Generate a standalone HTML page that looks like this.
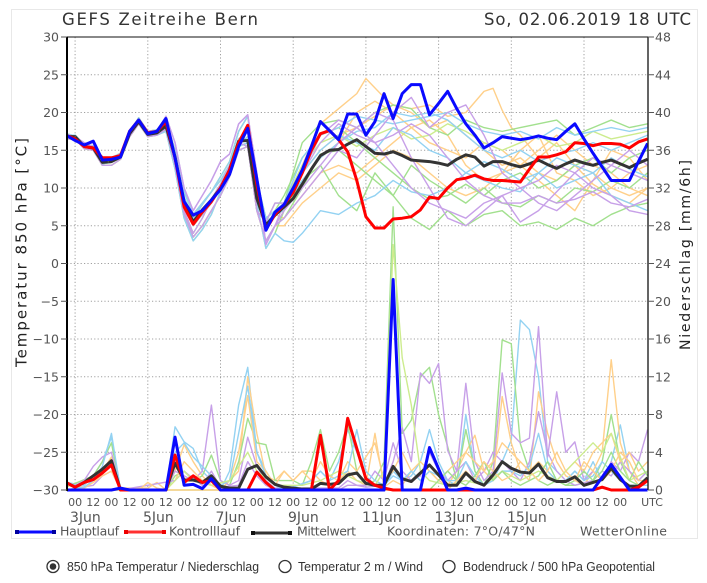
<!DOCTYPE html>
<html><head><meta charset="utf-8"><style>
html,body{margin:0;padding:0;background:#fff;width:707px;height:583px;overflow:hidden}
svg{display:block}
.t{font-family:"DejaVu Sans","Liberation Sans",sans-serif;fill:#555}
.r{font-family:"Liberation Sans",sans-serif;fill:#333;font-size:12.5px}
.m{fill:none;stroke-width:1.4;stroke-linejoin:round;vector-effect:non-scaling-stroke}
.k{fill:none;stroke-width:3;stroke-linejoin:round;vector-effect:non-scaling-stroke}
.o{stroke:#ffd08a}.g{stroke:#a2e08e}.b{stroke:#93d2f2}.p{stroke:#c7a0e8}.y{stroke:#cdec8e}
</style></head><body>
<svg width="707" height="583" viewBox="0 0 707 583" xmlns="http://www.w3.org/2000/svg">
<defs><clipPath id="c"><rect x="67" y="30" width="581" height="463"/></clipPath></defs>
<rect x="11.5" y="9.5" width="686" height="529" fill="#fff" stroke="#e8e8e8"/>
<text class="t" x="62" y="25" font-size="16.5" style="fill:#333" textLength="196" lengthAdjust="spacing">GEFS Zeitreihe Bern</text>
<text class="t" x="484" y="25" font-size="16.5" style="fill:#333" textLength="207" lengthAdjust="spacing">So, 02.06.2019 18 UTC</text>

<!-- grid -->
<g stroke="#a0a0a0" stroke-width="1" stroke-dasharray="1.2 2.2">
<line x1="67" x2="648" y1="74.75" y2="74.75"/><line x1="67" x2="648" y1="112.5" y2="112.5"/>
<line x1="67" x2="648" y1="150.25" y2="150.25"/><line x1="67" x2="648" y1="188" y2="188"/>
<line x1="67" x2="648" y1="225.75" y2="225.75"/><line x1="67" x2="648" y1="263.5" y2="263.5"/>
<line x1="67" x2="648" y1="301.25" y2="301.25"/><line x1="67" x2="648" y1="339" y2="339"/>
<line x1="67" x2="648" y1="376.75" y2="376.75"/><line x1="67" x2="648" y1="414.5" y2="414.5"/>
<line x1="67" x2="648" y1="452.25" y2="452.25"/>
<line x1="75.1" x2="75.1" y1="37" y2="490"/><line x1="147.8" x2="147.8" y1="37" y2="490"/>
<line x1="220.5" x2="220.5" y1="37" y2="490"/><line x1="293.2" x2="293.2" y1="37" y2="490"/>
<line x1="365.9" x2="365.9" y1="37" y2="490"/><line x1="438.6" x2="438.6" y1="37" y2="490"/>
<line x1="511.3" x2="511.3" y1="37" y2="490"/><line x1="584" x2="584" y1="37" y2="490"/>
</g>

<g clip-path="url(#c)">
<!-- temperature ensemble -->
<g transform="matrix(9.087 0 0 -7.55 66 263.5)">
<polyline class="m o" points="0,17 1,17 2,15.8 3,15.6 4,13.8 5,14 6,14.6 7,17.5 8,19.3 9,17.5 10,17.7 11,19 12,15 13,9.5 14,6.5 15,8 16,9.5 17,11.5 18,13.5 19,17.5 20,19.5 21,11 22,6 23,7 24,8 26,13 28,18.5 30,20.5 32,22.5 33,24.5 35,22 36,21 38,20 40,18 42,19 44,17 46,15 48,13 50,14 52,12 54,11 56,13 58,12 60,10 62,9 64,10"/>
<polyline class="m o" points="0,16.8 1,16.6 2,15.4 3,15 4,13.5 5,13.8 6,14.3 7,17.3 8,19 9,17.4 10,17.6 11,18.5 12,14.5 13,8.8 14,6 15,7.8 16,9.5 17,11 18,13 19,16.5 20,17.5 21,9.5 22,5.5 23,6.5 24,8 26,12 28,15 30,17 32,18 34,19.5 36,21 38,20.5 40,21 42,19.5 44,20 46,22.8 47,23.2 48,20.3 49,18 50,17 52,14 54,16 56,13 58,10.5 60,9 62,8 64,10"/>
<polyline class="m o" points="0,16.9 1,16.7 2,15.3 3,15.4 4,13.3 5,13.6 6,14.2 7,17 8,18.6 9,17.2 10,17.3 11,18 12,13.8 13,7.5 14,5 15,6.5 16,8 17,10 18,12 19,15.8 20,16.8 21,9 22,5 23,6.5 24,6 26,9 28,12 30,13 32,12 34,14 36,16 38,18 40,19 42,17 44,13 46,11 48,12 50,15 52,17 54,12 56,11 58,9 60,10 62,12 64,13"/>
<polyline class="m o" points="0,16.5 1,16.5 2,15.2 3,15 4,13 5,13 6,13.8 7,16.8 8,18.5 9,16.8 10,17 11,17.8 12,13 13,6.5 14,3.5 15,5 16,7 17,9 18,11.5 19,15 20,15.5 21,7 22,3 23,5 24,5 26,8 28,10 30,12 32,11 34,13 36,15 38,14 40,12 42,10 44,9 46,10 48,12 50,13 52,11 54,9 56,7 58,11 60,15 62,14 64,11"/>
<polyline class="m o" points="0,16.9 1,16.7 2,15.3 3,15.4 4,13.3 5,13.6 6,14.2 7,17 8,18.6 9,17.2 10,17.3 11,18 12,13.8 13,7.5 14,5 15,6.5 16,8 17,10 18,12 19,15.8 20,16.8 21,9 22,5 23,6.5 24,7 26,11 28,14 30,16 32,20 34,21.5 36,20 38,18 40,16 42,15 44,14 46,16 48,15 50,13 52,15 54,17 56,15 58,13 60,12 62,10 64,9"/>
<polyline class="m g" points="0,17 1,16.9 2,15.6 3,15.2 4,13.6 5,13.5 6,14 7,17.2 8,18.8 9,16.8 10,17.2 11,18.3 12,14 13,7 14,4 15,6 16,8.5 17,10.5 18,13 19,16 20,15.5 21,7 22,5.5 23,8 24,8 26,16 28,18.5 30,19 32,18 34,20 36,21 38,20.5 40,18 42,17 44,19 46,18 48,17.5 50,18 52,18.5 54,19 56,17 58,18 60,19 62,18 64,18.5"/>
<polyline class="m g" points="0,17.2 1,16.9 2,15.8 3,15.2 4,13.2 5,13.4 6,14 7,17 8,18.7 9,16.9 10,17 11,17.5 12,12.5 13,6 14,3 15,4.5 16,6.5 17,9.5 18,12.5 19,15.5 20,16 21,8 22,2 23,4 24,7 26,11 28,13 30,9 32,7 34,12 36,9 38,6 40,4.5 42,7 44,5 46,6.5 48,7 50,5 52,5.5 54,4.5 56,6 58,5 60,6.5 62,7.5 64,8"/>
<polyline class="m g" points="0,16.5 1,16.5 2,15.2 3,15 4,13 5,13 6,13.8 7,16.8 8,18.5 9,16.8 10,17 11,17.8 12,13 13,6.5 14,3.5 15,5 16,7 17,9 18,11.5 19,15 20,15.5 21,7 22,3 23,5 24,6 26,10 28,14.5 30,15 32,13 34,11 36,9 38,13 40,11 42,9.5 44,8 46,10 48,8 50,7.5 52,9 54,8 56,10 58,9.5 60,11 62,10 64,12"/>
<polyline class="m g" points="0,17 1,17 2,15.8 3,15.6 4,13.8 5,14 6,14.6 7,17.5 8,19.3 9,17.5 10,17.7 11,19 12,15 13,9.5 14,6.5 15,8 16,9.5 17,11.5 18,13.5 19,17.5 20,19.5 21,11 22,6 23,7 24,9 26,14 28,17 30,18 32,16 34,14 36,12 38,10 40,8.5 42,9 44,10.5 46,9 48,11 50,12 52,10 54,11 56,13 58,14 60,12 62,14 64,15"/>
<polyline class="m y" points="0,16.8 1,16.6 2,15.4 3,15 4,13.5 5,13.8 6,14.3 7,17.3 8,19 9,17.4 10,17.6 11,18.5 12,14.5 13,8.8 14,6 15,7.8 16,9.5 17,11 18,13 19,16.5 20,17.5 21,9.5 22,5.5 23,6.5 24,8 26,13 28,16 30,17 32,15.5 34,17 36,18 38,16.5 40,17 42,18.5 44,17.5 46,16 48,15 50,16 52,17 54,15.5 56,16 58,17.5 60,16.5 62,17 64,17.5"/>
<polyline class="m b" points="0,17.2 1,16.9 2,15.8 3,15.2 4,13.2 5,13.4 6,14 7,17 8,18.7 9,16.9 10,17 11,17.5 12,12.5 13,6 14,3 15,4.5 16,6.5 17,9.5 18,12.5 19,15.5 20,16 21,8 22,2 23,4 24,3 25,2.8 26,4 28,7 30,6.5 32,8 34,9 36,11 38,9.5 40,9 42,10 44,12 46,11 48,10 50,9.5 52,12 54,10 56,11 58,12 60,9 62,8 64,7"/>
<polyline class="m b" points="0,17 1,17 2,15.8 3,15.6 4,13.8 5,14 6,14.6 7,17.5 8,19.3 9,17.5 10,17.7 11,19 12,15 13,9.5 14,6.5 15,8 16,9.5 17,11.5 18,13.5 19,17.5 20,19.5 21,11 22,6 23,7 24,8 26,14 28,17 30,18 32,19.5 34,19 36,18.5 38,19 40,19.5 42,20 44,18.5 46,17.5 48,17 50,17.5 52,16.5 54,18 56,17 58,17.5 60,18 62,17.5 64,18"/>
<polyline class="m b" points="0,16.9 1,16.7 2,15.3 3,15.4 4,13.3 5,13.6 6,14.2 7,17 8,18.6 9,17.2 10,17.3 11,18 12,13.8 13,7.5 14,5 15,6.5 16,8 17,10 18,12 19,15.8 20,16.8 21,9 22,5 23,6.5 24,7 26,12 28,15 30,17 32,16 34,15 36,18 38,17 40,15 42,14 44,12 46,13.5 48,12.5 50,11 52,12 54,14 56,13 58,12 60,14 62,12.5 64,11.5"/>
<polyline class="m b" points="0,16.8 1,16.6 2,15.4 3,15 4,13.5 5,13.8 6,14.3 7,17.3 8,19 9,17.4 10,17.6 11,18.5 12,14.5 13,8.8 14,6 15,7.8 16,9.5 17,11 18,13 19,16.5 20,17.5 21,9.5 22,5.5 23,6.5 24,7.5 26,11 28,14 30,16 32,17.5 34,18 36,20 38,19.5 40,20 42,19 44,17 46,15 48,14 50,15 52,13.5 54,14.5 56,15 58,16 60,15 62,16 64,17"/>
<polyline class="m p" points="0,16.5 1,16.8 2,16 3,15.5 4,14 5,14 6,14.5 7,17.5 8,19 9,17.5 10,17.5 11,19.5 12,16 13,10 14,7 15,9 16,11 17,13.5 18,14.5 19,18.5 20,19.7 21,12 22,2.5 23,5 24,7 26,10 28,13 30,16 32,18 34,20 36,19 38,14 40,10 42,6 44,5 46,7 48,9 50,10 52,8 54,7 56,9 58,11 60,13 62,12 64,11"/>
<polyline class="m p" points="0,16.5 1,16.5 2,15.2 3,15 4,13 5,13 6,13.8 7,16.8 8,18.5 9,16.8 10,17 11,17.8 12,13 13,6.5 14,3.5 15,5 16,7 17,9 18,11.5 19,15 20,15.5 21,7 22,3 23,5 24,8 26,12 28,16 30,18.5 32,17 34,16 36,13 38,10 40,8 42,7 44,6 46,8 48,9 50,5.5 52,7 54,9.5 56,12 58,10 60,9 62,7 64,6.5"/>
<polyline class="m p" points="0,16.5 1,16.8 2,16 3,15.5 4,14 5,14 6,14.5 7,17.5 8,19 9,17.5 10,17.5 11,19.5 12,16 13,10 14,7 15,9 16,11 17,13.5 18,14.5 19,18.5 20,19.7 21,12 22,2.5 23,5 24,6 26,9 28,12 30,15 32,14 34,17 36,20 38,22 40,18 42,20 44,21 46,17 48,12 50,10 52,11 54,13 56,12 58,14 60,13 62,15 64,13"/>
<polyline class="m p" points="0,17 1,16.9 2,15.6 3,15.2 4,13.6 5,13.5 6,14 7,17.2 8,18.8 9,16.8 10,17.2 11,18.3 12,14 13,7 14,4 15,6 16,8.5 17,10.5 18,13 19,16 20,15.5 21,7 22,5.5 23,8 24,8 26,12 28,17 30,19 32,18 34,16 36,17 38,18.5 40,17 42,14 44,11 46,9 48,8 50,8 52,9 54,8 56,8.5 58,9.5 60,8 62,7.5 64,8.5"/>
</g>
<!-- precipitation ensemble -->
<g transform="matrix(9.087 0 0 -9.4375 66 490)">
<polyline class="m b" points="0,0.8 2,0.5 3,1.5 4,3 5,5.6 6,0 11,0 12,6.7 13,5.1 14,4.4 15,2 16,1 17,0 18,2 19,9 20,13 21,4 22,2 23,0.5 25,0.3 27,1 28,2 29,1 30,3 31,6.4 32,4 33,1.5 34,0.5 35,0.3 36,2 37,1 38,1.5 39,3 40,6.4 41,3 42,1 43,0.5 44,8 45,2 46,0.5 47,1 48,3 49,5.3 50,18 51,17 52,12 53,3 54,2 55,1 56,2 57,1 58,3 59,1 60,3 61,6.9 62,2 63,1 64,2"/>
<polyline class="m o" points="0,0.5 2,0.3 3,1 4,2 5,3.5 6,0.2 9,0.2 10,0.8 11,0 12,2 13,4.8 14,3 15,1.5 16,0.5 17,0 19,2 20,12 21,6 22,1.5 23,1 24,2 25,1 26,2 27,2 28,1 29,0.5 30,1 31,2 32,1 33,0.5 34,6 35,0.3 36,1 37,0.5 38,2 39,1 40,2 41,1 42,0.5 43,2 44,4 45,5.8 46,2 47,1 48,9.9 49,5 50,2 51,1 52,10.4 53,6 54,3 55,1.5 56,1 57,0.5 58,2 59,4 60,13.8 61,5 62,2 63,0.5 64,1"/>
<polyline class="m g" points="0,0.3 3,1.5 4,3 5,5 6,0 11,0 12,1.5 13,2 14,1 15,1.5 16,3.7 17,1 18,0.5 19,3 20,7.6 21,5 22,4.8 23,1 25,1 26,0.5 27,3 28,6.4 29,2 30,4 31,7 32,2 33,0.5 34,1 35,3 36,30 37,6 38,7.4 39,12 40,13 41,8 42,4.6 43,1 44,6.4 45,2 46,0.5 47,3 48,15.9 49,15.5 50,4.9 51,2 52,1 53,0.5 54,1 55,0.5 56,0.5 58,1 59,3 60,8 61,3 62,1 63,0.5 64,0.5"/>
<polyline class="m p" points="0,0.8 1,0.5 2,1 3,2.5 4,3.5 5,4 6,0 11,0 12,2 13,1.5 14,1 15,2 16,9 17,1 18,0.5 19,1 20,5.6 21,2.5 22,1 23,0.2 30,0.2 31,1 32,0.5 33,0.3 35,0.5 36,3 37,6.6 38,3 39,12.4 40,11.3 41,13.4 42,4.2 43,2 44,11.3 45,3 46,1 47,2 48,12.4 49,6 50,5 51,5.5 52,17.3 53,3.5 54,10.4 55,4 56,5.1 57,1 58,2 59,1 60,3 61,2 62,4 63,3 64,6.4"/>
<polyline class="m p" points="0,0 3,0.5 4,1.5 5,2 6,0 12,1 13,2 14,1.2 15,0.5 16,2 17,0.3 19,0.5 20,3 21,1.5 22,0.5 23,0 30,0 31,0.5 33,0.5 34,2 35,1 36,5 37,2 38,1 39,1.5 40,4 41,2 42,1 44,3 45,1 46,2 47,4 48,3 49,2 50,1 51,3 52,8.3 53,4 54,2 55,1 56,0.5 58,1 59,2 60,1.5 61,3 62,2 63,1 64,2"/>
<polyline class="m o" points="0,0.5 2,0.2 3,0.8 4,1.5 5,2 6,0 8,0 9,0.8 10,0.2 11,0 12,1 13,3 14,2 15,1 16,1.5 17,0.5 18,1 19,4 20,10 21,3 22,2 23,0.5 24,2 25,1 26,2 27,1 28,3 29,1.5 30,1 31,3 32,2 33,3.5 34,5 35,1 36,2 37,4 38,2 39,3 40,2 41,1 42,2 43,3 44,4 45,3 46,2 47,3 48,5 49,4 50,3 51,2 52,3 53,2 54,1 55,2 56,3 57,2 58,4 59,5 60,6 61,3 62,4 63,2 64,3"/>
<polyline class="m b" points="0,0 2,0.3 3,1 4,2.5 5,6 6,0 11,0 12,4 13,5 14,3.5 15,2.5 16,1.5 17,0.5 18,1 19,6 20,11 21,4 22,1.5 23,0.5 24,0 27,1 28,2 29,1 31,2 32,6.4 33,2 34,1 35,0.5 36,1.5 37,1 38,2 39,1 40,2 41,1.5 42,1 43,1 44,3 45,1.5 46,0.5 47,1 48,2 49,2 50,1.5 51,2.5 52,6 53,2 54,1 55,1 56,2 57,1 58,1.5 59,3 60,2 61,1 62,0.5 64,0.5"/>
<polyline class="m y" points="0,0 11,0 12,1 13,2 14,1 16,0.5 18,1 20,4 21,2 23,0.5 26,0.5 28,1 30,2 32,1 34,0.5 35,2 36,26 37,14 38,9 39,2 40,1 42,0.5 44,1 46,0.5 48,2 50,1 52,2 54,1 56,3 58,5 59,4 60,6 62,1 64,2"/>
<polyline class="m g" points="0,0 40,0 41,1 42,2 43,1 44,0.5 45,1.5 46,3 47,1 48,2 49,1 50,0.5 52,1.5 53,3 54,1 55,0.5 56,1 57,2 58,1 59,2 60,4 61,2 62,1 63,3 64,1.5"/>
<polyline class="m o" points="0,0 42,0 43,1 44,2 45,1 46,3 47,2 48,1 49,1.5 50,3 51,2 52,1 53,2 54,4 55,2 56,1 57,3 58,2 59,1 60,2 61,4 62,3 63,1 64,1"/>
</g>
<!-- main series -->
<g transform="matrix(9.087 0 0 -7.55 66 263.5)">
<polyline class="k" stroke="#333" points="0,16.8 1,16.8 2,15.5 3,15.3 4,13.4 5,13.5 6,14.1 7,17.2 8,18.8 9,17.1 10,17.3 11,18.2 12,14.1 13,8 14,5.5 15,7.1 16,8.4 17,10 18,12.4 19,16.2 20,16.3 21,8.6 22,5.1 23,6.4 24,7.5 25,8.6 26,10.5 27,12.5 28,14.3 29,15 30,15.1 31,15.8 32,16.4 33,15.5 34,14.6 35,14.5 36,14.8 37,14.3 38,13.7 39,13.6 40,13.5 41,13.3 42,13 43,13.8 44,14.4 45,14.1 46,12.9 47,13.5 48,13.5 49,13.1 50,12.8 51,13.2 52,13.7 53,13.1 54,12.6 55,13.2 56,13.7 57,13.3 58,13 59,13.4 60,13.7 61,13.2 62,12.7 63,13.3 64,13.8"/>
<polyline fill="none" stroke="#888" stroke-width="1" stroke-dasharray="0 9.087" stroke-linecap="round" vector-effect="non-scaling-stroke" points="0,16.8 1,16.8 2,15.5 3,15.3 4,13.4 5,13.5 6,14.1 7,17.2 8,18.8 9,17.1 10,17.3 11,18.2 12,14.1"/>
</g>
<g transform="matrix(9.087 0 0 -9.4375 66 490)">
<polyline class="k" stroke="#333" points="0,0.8 1,0.3 2,0.8 3,1.5 4,2.2 5,3.1 6,0 11,0 12,2.85 13,1.06 14,1.06 15,0.8 16,1.5 17,0.4 18,0.2 19,0.2 20,2.2 21,2.6 22,1.4 23,0.6 24,0.3 25,0.2 26,0.1 27,0.1 28,0.7 29,0.6 30,0.7 31,1.6 32,1.8 33,0.7 34,0.5 35,0.5 36,2.5 37,1.2 38,0.9 39,1.8 40,2.65 41,1.6 42,0.5 43,0.5 44,1.8 45,0.9 46,0.5 47,1.6 48,3 49,2.3 50,1.9 51,1.8 52,2.75 53,1.3 54,0.9 55,0.9 56,1.4 57,0.5 58,0.8 59,1.1 60,2.3 61,1.1 62,0.4 63,0.4 64,1.3"/>
<polyline class="k" stroke="#f00" points="0,0.8 1,0.3 2,0.8 3,1.1 4,1.8 5,2.65 6,0 11,0 12,3.7 13,0.8 14,1.5 15,0.8 16,1 17,0 20,0 21,1.9 22,0.8 23,0 27,0 28,5.8 29,0 30,1 31,7.6 32,4.4 33,1.2 34,0.5 35,0.2 36,0 58,0 59,0.3 60,0 62,0 63,0.3 64,1"/>
<polyline class="k" stroke="#0a0aff" points="0,0 5,0 6,0.2 7,0 11,0 12,5.6 13,0.5 14,0.6 15,0.15 16,1.2 17,0 35,0 36,22.3 37,0 39,0 40,4.5 42,0 43,0 44,0.2 45,0 58,0 60,2.7 62,0 64,0"/>
</g>
<g transform="matrix(9.087 0 0 -7.55 66 263.5)">
<polyline class="k" stroke="#f00" points="0,17 1,16.5 2,15.5 3,15.3 4,14 5,14 6,14.3 7,17.5 8,19 9,17.3 10,17.5 11,18.8 12,14 13,7.5 14,5.2 15,6.8 16,8.2 17,10 18,12.4 19,16 20,18.3 21,10.5 22,4.5 23,6.5 24,7.8 25,9.4 26,12 27,15 28,17.2 29,17.6 30,16.4 31,14.8 32,11 33,6.2 34,4.7 35,4.7 36,5.9 37,6 38,6.2 39,7.1 40,8.8 41,8.6 42,10 43,11.1 44,11.3 45,11.7 46,11.2 47,11 48,11 49,10.9 50,10.8 51,12.5 52,14.1 53,14.1 54,14.4 55,14.8 56,16 57,15.9 58,15.6 59,15.9 60,15.9 61,15.8 62,15.3 63,16.1 64,16.5"/>
<polyline class="k" stroke="#0a0aff" points="0,17 1,16.3 2,15.7 3,16.2 4,13.7 5,13.8 6,14.1 7,17.5 8,19 9,17.2 10,17.5 11,19.2 12,14 13,8.2 14,6.4 15,7 16,8.4 17,9.8 18,11.8 19,15.5 20,17.9 21,11.2 22,4.4 23,6.8 24,7.8 25,10 26,12.4 27,15.5 28,18.8 29,17.6 30,16.4 31,19.8 32,19.8 33,17 34,18.8 35,22.5 36,19.2 37,22.5 38,23.7 39,23.7 40,19.7 41,21.2 42,22.8 43,20.5 44,18.5 45,17 46,15.3 47,16 48,16.8 49,16.6 50,16.4 51,16.6 52,16.9 53,16.6 54,16.4 55,17.5 56,18.5 57,16.5 58,14.6 59,12.8 60,11 61,11 62,11 63,13.5 64,15.9"/>
</g>
</g>

<!-- axes -->
<line x1="67" y1="37" x2="648" y2="37" stroke="#111" stroke-width="1"/>
<line x1="648" y1="37" x2="648" y2="490" stroke="#222" stroke-width="1.4"/>
<line x1="67" y1="36.5" x2="67" y2="491" stroke="#000" stroke-width="2"/>
<g stroke="#555" stroke-width="1">
<path d="M61 37H67M61 74.75H67M61 112.5H67M61 150.25H67M61 188H67M61 225.75H67M61 263.5H67M61 301.25H67M61 339H67M61 376.75H67M61 414.5H67M61 452.25H67M61 490H67"/>
<path d="M648 37H654M648 74.75H654M648 112.5H654M648 150.25H654M648 188H654M648 225.75H654M648 263.5H654M648 301.25H654M648 339H654M648 376.75H654M648 414.5H654M648 452.25H654M648 490H654"/>
</g>
<g class="t" font-size="12.5" text-anchor="end">
<text x="59" y="41.5">30</text><text x="59" y="79.25">25</text><text x="59" y="117">20</text>
<text x="59" y="154.75">15</text><text x="59" y="192.5">10</text><text x="59" y="230.25">5</text>
<text x="59" y="268">0</text><text x="59" y="305.75">−5</text><text x="59" y="343.5">−10</text>
<text x="59" y="381.25">−15</text><text x="59" y="419">−20</text><text x="59" y="456.75">−25</text>
<text x="59" y="494.5">−30</text>
</g>
<g class="t" font-size="12.5">
<text x="655" y="41.5">48</text><text x="655" y="79.25">44</text><text x="655" y="117">40</text>
<text x="655" y="154.75">36</text><text x="655" y="192.5">32</text><text x="655" y="230.25">28</text>
<text x="655" y="268">24</text><text x="655" y="305.75">20</text><text x="655" y="343.5">16</text>
<text x="655" y="381.25">12</text><text x="655" y="419">8</text><text x="655" y="456.75">4</text>
<text x="655" y="494.5">0</text>
</g>
<text class="t" font-size="15" style="fill:#222" text-anchor="middle" transform="translate(26.5,252.5) rotate(-90)" textLength="229" lengthAdjust="spacing">Temperatur 850 hPa [°C]</text>
<text class="t" font-size="14" style="fill:#222" text-anchor="middle" transform="translate(690,255) rotate(-90)" textLength="190" lengthAdjust="spacing">Niederschlag [mm/6h]</text>

<g class="t" font-size="11" text-anchor="middle">
<text x="75.1" y="506">00</text><text x="93.3" y="506">12</text><text x="111.4" y="506">00</text><text x="129.6" y="506">12</text>
<text x="147.8" y="506">00</text><text x="165.9" y="506">12</text><text x="184.1" y="506">00</text><text x="202.3" y="506">12</text>
<text x="220.5" y="506">00</text><text x="238.6" y="506">12</text><text x="256.8" y="506">00</text><text x="275" y="506">12</text>
<text x="293.1" y="506">00</text><text x="311.3" y="506">12</text><text x="329.5" y="506">00</text><text x="347.6" y="506">12</text>
<text x="365.8" y="506">00</text><text x="384" y="506">12</text><text x="402.2" y="506">00</text><text x="420.3" y="506">12</text>
<text x="438.5" y="506">00</text><text x="456.7" y="506">12</text><text x="474.8" y="506">00</text><text x="493" y="506">12</text>
<text x="511.2" y="506">00</text><text x="529.4" y="506">12</text><text x="547.5" y="506">00</text><text x="565.7" y="506">12</text>
<text x="583.9" y="506">00</text><text x="602" y="506">12</text><text x="620.2" y="506">00</text><text x="652" y="506">UTC</text>
</g>
<g class="t" font-size="14">
<text x="70" y="522">3Jun</text><text x="143" y="522">5Jun</text><text x="215.5" y="522">7Jun</text>
<text x="288" y="522">9Jun</text><text x="362" y="522">11Jun</text><text x="434.5" y="522">13Jun</text><text x="507" y="522">15Jun</text>
</g>

<!-- legend -->
<line x1="17" y1="532" x2="54" y2="532" stroke="#0a0aff" stroke-width="3"/>
<rect x="15" y="530" width="4" height="4" fill="#0000a0"/><rect x="52" y="530" width="4" height="4" fill="#0000a0"/>
<line x1="126" y1="532" x2="164" y2="532" stroke="#ff3030" stroke-width="3"/>
<rect x="124" y="530" width="4" height="4" fill="#e00"/><rect x="162" y="530" width="4" height="4" fill="#e00"/>
<line x1="253" y1="533" x2="290" y2="533" stroke="#333" stroke-width="3"/>
<rect x="251" y="531" width="4" height="4" fill="#111"/><rect x="288" y="531" width="4" height="4" fill="#111"/>
<g class="t" font-size="12.5">
<text x="60" y="535.5" textLength="59" lengthAdjust="spacing">Hauptlauf</text>
<text x="169" y="535.5" textLength="71" lengthAdjust="spacing">Kontrolllauf</text>
<text x="297" y="535.5" textLength="59" lengthAdjust="spacing">Mittelwert</text>
<text x="387" y="535.5" textLength="148" lengthAdjust="spacing">Koordinaten:  7°O/47°N</text>
<text x="580" y="535.5" textLength="87" lengthAdjust="spacing">WetterOnline</text>
</g>

<!-- radios -->
<circle cx="53" cy="566.5" r="6" fill="#fff" stroke="#333" stroke-width="1.3"/>
<circle cx="53" cy="566.5" r="3.3" fill="#333"/>
<circle cx="285" cy="566.5" r="6" fill="#fff" stroke="#333" stroke-width="1.3"/>
<circle cx="449" cy="566.5" r="6" fill="#fff" stroke="#333" stroke-width="1.3"/>
<text class="r" x="67" y="571" textLength="192" lengthAdjust="spacingAndGlyphs">850 hPa Temperatur / Niederschlag</text>
<text class="r" x="298" y="571" textLength="125" lengthAdjust="spacingAndGlyphs">Temperatur 2 m / Wind</text>
<text class="r" x="463" y="571" textLength="192" lengthAdjust="spacingAndGlyphs">Bodendruck / 500 hPa Geopotential</text>
</svg>
</body></html>
